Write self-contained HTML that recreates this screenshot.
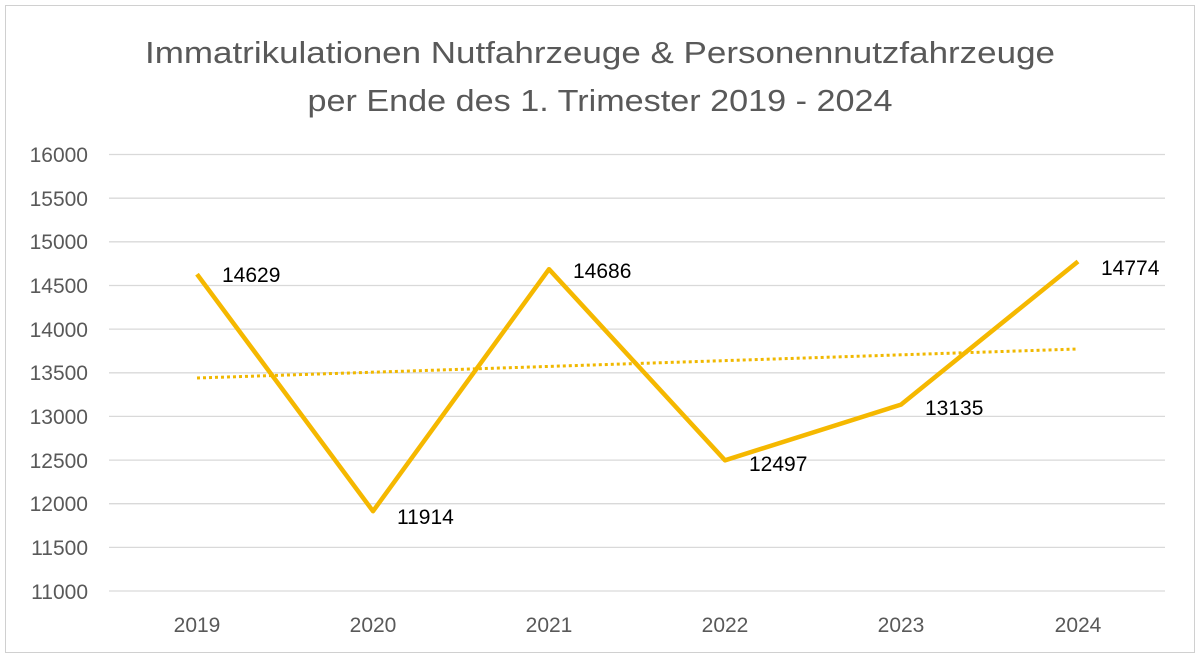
<!DOCTYPE html>
<html><head><style>
body{margin:0;background:#fff}
svg text{font-family:"Liberation Sans",sans-serif}
</style></head><body>
<svg width="1200" height="658" xmlns="http://www.w3.org/2000/svg">
<rect x="5.5" y="5.5" width="1189" height="647" fill="#fff" stroke="#d0d0d0" stroke-width="1"/>
<g fill="#595959" font-size="31" text-anchor="middle">
<text x="600" y="63" textLength="910" lengthAdjust="spacingAndGlyphs">Immatrikulationen Nutfahrzeuge &amp; Personennutzfahrzeuge</text>
<text x="600" y="111" textLength="585" lengthAdjust="spacingAndGlyphs">per Ende des 1. Trimester 2019 - 2024</text>
</g>
<g stroke="#d9d9d9" stroke-width="1.3">
<line x1="109" x2="1165" y1="154.5" y2="154.5"/>
<line x1="109" x2="1165" y1="198.2" y2="198.2"/>
<line x1="109" x2="1165" y1="241.8" y2="241.8"/>
<line x1="109" x2="1165" y1="285.5" y2="285.5"/>
<line x1="109" x2="1165" y1="329.1" y2="329.1"/>
<line x1="109" x2="1165" y1="372.8" y2="372.8"/>
<line x1="109" x2="1165" y1="416.4" y2="416.4"/>
<line x1="109" x2="1165" y1="460.1" y2="460.1"/>
<line x1="109" x2="1165" y1="503.7" y2="503.7"/>
<line x1="109" x2="1165" y1="547.4" y2="547.4"/>
<line x1="109" x2="1165" y1="591" y2="591"/>
</g>
<g fill="#595959" font-size="21" text-anchor="end">
<text x="88" y="162">16000</text>
<text x="88" y="206">15500</text>
<text x="88" y="249">15000</text>
<text x="88" y="293">14500</text>
<text x="88" y="337">14000</text>
<text x="88" y="380">13500</text>
<text x="88" y="424">13000</text>
<text x="88" y="468">12500</text>
<text x="88" y="511">12000</text>
<text x="88" y="555">11500</text>
<text x="88" y="599">11000</text>
</g>
<g fill="#595959" font-size="21" text-anchor="middle">
<text x="197" y="632">2019</text>
<text x="373" y="632">2020</text>
<text x="549" y="632">2021</text>
<text x="725" y="632">2022</text>
<text x="901" y="632">2023</text>
<text x="1078" y="632">2024</text>
</g>
<line x1="197" y1="378" x2="1078" y2="349" stroke="#f0b800" stroke-width="3" stroke-dasharray="3,3"/>
<polyline fill="none" stroke="#f5b800" stroke-width="4.5" stroke-linejoin="round" points="197,274.2 373,511.2 549,269.2 725,460.3 901,404.6 1078,261.5"/>
<g fill="#000" font-size="21">
<text x="222" y="282">14629</text>
<text x="397" y="524">11914</text>
<text x="573" y="278">14686</text>
<text x="749" y="471">12497</text>
<text x="925" y="415">13135</text>
<text x="1101" y="275">14774</text>
</g>
</svg>
</body></html>
